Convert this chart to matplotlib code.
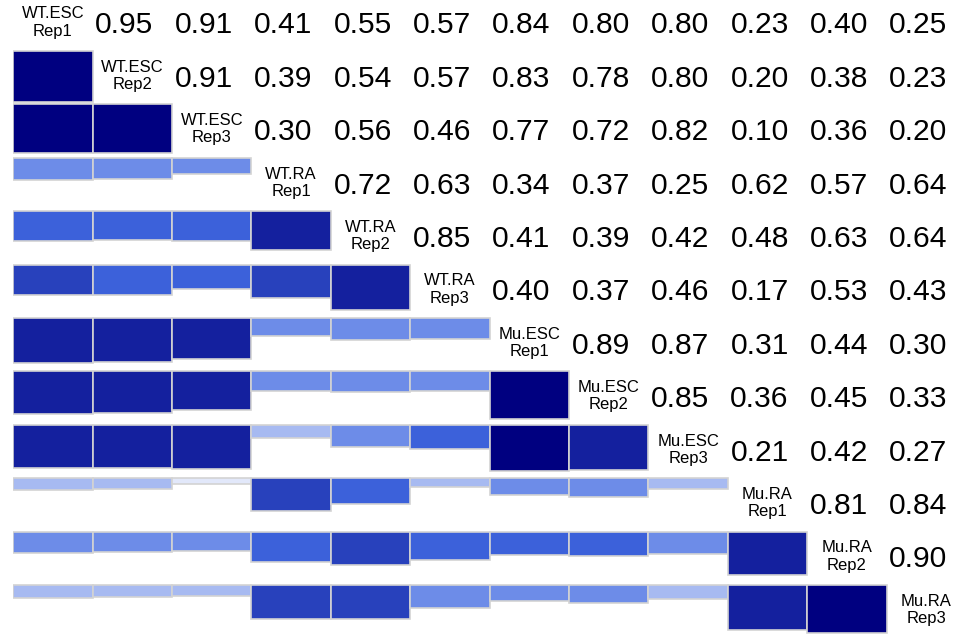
#-  plot.py ~~
#
#   Corrgram-style correlation matrix: shaded bars below the diagonal, the
#   sample names on the diagonal and the printed coefficients above it.

import matplotlib
matplotlib.use("Agg")
import matplotlib.pyplot as pyplot
from matplotlib.colors import LinearSegmentedColormap
import numpy as np

###

labels = ["WT.ESC\nRep1", "WT.ESC\nRep2", "WT.ESC\nRep3",
          "WT.RA\nRep1", "WT.RA\nRep2", "WT.RA\nRep3",
          "Mu.ESC\nRep1", "Mu.ESC\nRep2", "Mu.ESC\nRep3",
          "Mu.RA\nRep1", "Mu.RA\nRep2", "Mu.RA\nRep3"]

# Upper triangle, one list per row (values right of the diagonal).
row_wt_esc_1 = [0.95, 0.91, 0.41, 0.55, 0.574, 0.84, 0.80, 0.80, 0.23, 0.40, 0.25]
row_wt_esc_2 = [0.91, 0.39, 0.54, 0.57, 0.83, 0.78, 0.80, 0.20, 0.38, 0.23]
row_wt_esc_3 = [0.30, 0.56, 0.46, 0.77, 0.72, 0.82, 0.10, 0.36, 0.20]
row_wt_ra_1 = [0.72, 0.63, 0.34, 0.37, 0.25, 0.62, 0.57, 0.64]
row_wt_ra_2 = [0.85, 0.41, 0.39, 0.42, 0.48, 0.63, 0.64]
row_wt_ra_3 = [0.40, 0.37, 0.46, 0.17, 0.53, 0.427]
row_mu_esc_1 = [0.89, 0.87, 0.31, 0.44, 0.30]
row_mu_esc_2 = [0.85, 0.36, 0.45, 0.33]
row_mu_esc_3 = [0.21, 0.42, 0.27]
row_mu_ra_1 = [0.81, 0.84]
row_mu_ra_2 = [0.90]

upper_rows = [row_wt_esc_1, row_wt_esc_2, row_wt_esc_3, row_wt_ra_1,
              row_wt_ra_2, row_wt_ra_3, row_mu_esc_1, row_mu_esc_2,
              row_mu_esc_3, row_mu_ra_1, row_mu_ra_2]

###

def build_matrix():

    n = len(labels)
    corr = np.eye(n)
    for i, row in enumerate(upper_rows):
        for k, r in enumerate(row):
            j = i + 1 + k
            corr[i, j] = r
            corr[j, i] = r
    return corr

def bar_colors(values):

  # Same 14-step palette and binning as R's corrgram panel.bar.

    pal = LinearSegmentedColormap.from_list("corrgram",
        ["red", "salmon", "white", "royalblue", "navy"], N=14)
    breaks = np.linspace(-1, 1, 15)
    idx = np.digitize(values, breaks[1:-1])
    return [pal(int(k)) for k in idx]

def main():

    corr = build_matrix()
    n = len(labels)

    fig = pyplot.figure(figsize=(9.66, 6.35), dpi=100)
    ax = fig.add_axes([13.3 / 966, -3.4 / 635, 952.7 / 966, 640.8 / 635])
    ax.set_xlim(0, n)
    ax.set_ylim(n, 0)
    ax.axis("off")

    font = "Liberation Sans"

  # Lower panels: bars hanging from the top of each cell.

    for i in range(1, n):
        vals = corr[i, :i]
        ax.bar(np.arange(i), vals, bottom=i, width=1.0, align="edge",
            color=bar_colors(vals), edgecolor="#D3D3D3", linewidth=1.2)

  # Diagonal labels (baseline of the second line is the anchor).

    for i in range(n):
        ax.text(i + 0.5, i + 0.71, labels[i], ha="center", va="baseline",
            fontsize=12, family=font, linespacing=1.18, color="black")

  # Upper panels: coefficients.

    for i in range(n):
        for j in range(i + 1, n):
            ax.text(j + 0.5 - 0.10, i + 0.5 + 0.17, "%.2f" % corr[i, j],
                ha="center", va="baseline", fontsize=21.6, family=font,
                color="black")

    fig.savefig("out.png", dpi=100)

###

if __name__ == "__main__":
    main()
